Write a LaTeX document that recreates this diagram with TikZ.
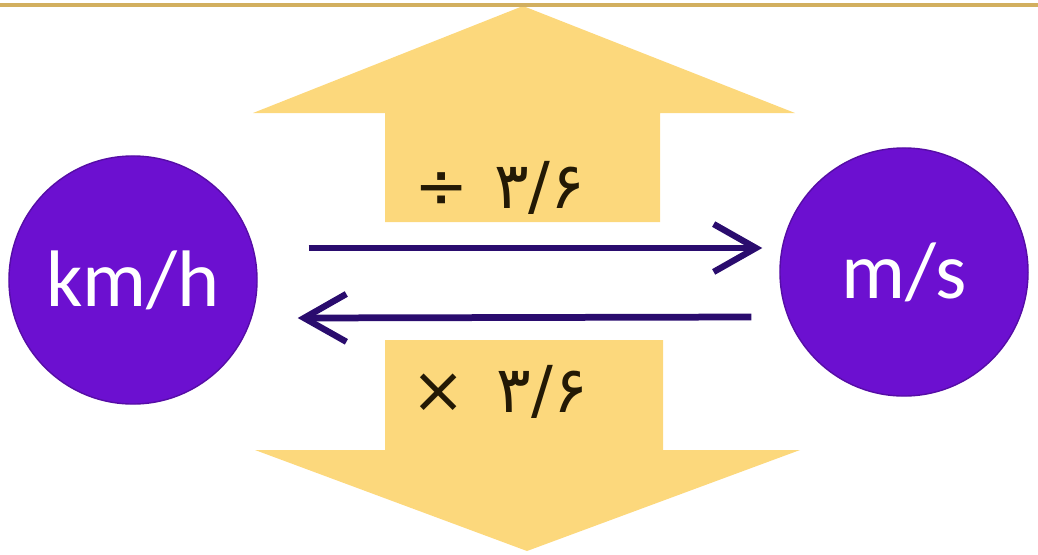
\documentclass[tikz,border=0pt]{standalone}
\usepackage{fontspec}
\setmainfont{Carlito}
\newfontfamily\arabicfont[Script=Arabic]{DejaVu Sans}
\usetikzlibrary{positioning,arrows.meta,calc}
\definecolor{unitpurple}{RGB}{108,16,208}
\definecolor{convnavy}{RGB}{42,12,110}
\definecolor{bigarrow}{RGB}{252,216,124}
\definecolor{rulegold}{RGB}{210,175,95}
\definecolor{factortext}{RGB}{35,25,5}

\begin{document}
\begin{tikzpicture}[
  x=0.025cm, y=-0.025cm,
  unit/.style={circle, fill=unitpurple, draw=unitpurple!80!black, line width=1pt,
    minimum size=6.2cm, inner sep=0pt, text=white, font=\fontsize{57}{60}\selectfont},
  conv/.style={convnavy, line width=4.8pt,
    -{Straight Barb[length=30pt,width=34pt,line width=4.5pt]}},
  factor/.style={text=factortext, font=\arabicfont\fontsize{46}{50}\selectfont, inner sep=0pt}
]
\useasboundingbox (0,0) rectangle (1038,554);
\fill[bigarrow] (385,222) -- (385,113) -- (253,113) -- (523,6) -- (795,113) -- (660,113) -- (660,222) -- cycle;
\fill[bigarrow] (385,340) -- (663,340) -- (663,450) -- (800,450) -- (527,551) -- (255,450) -- (385,450) -- cycle;
\draw[rulegold, line width=2.5pt] (0,5) -- (1038,5);

\node[unit] (kmh) at (133,280) {km/h};
\node[unit] (ms) at (904,272) {m/s};
\draw[conv] ($(kmh.east)+(51,-32)$) -- ($(ms.west)+(-17,-24)$);
\draw[conv] ($(ms.west)+(-28,45)$) -- ($(kmh.east)+(40,38)$);

\node[factor] (divide) at (500,188) {÷\hspace{18pt}۳/۶};
\node[factor] (times) at (500,392) {×\hspace{22pt}۳/۶};
\end{tikzpicture}
\end{document}
